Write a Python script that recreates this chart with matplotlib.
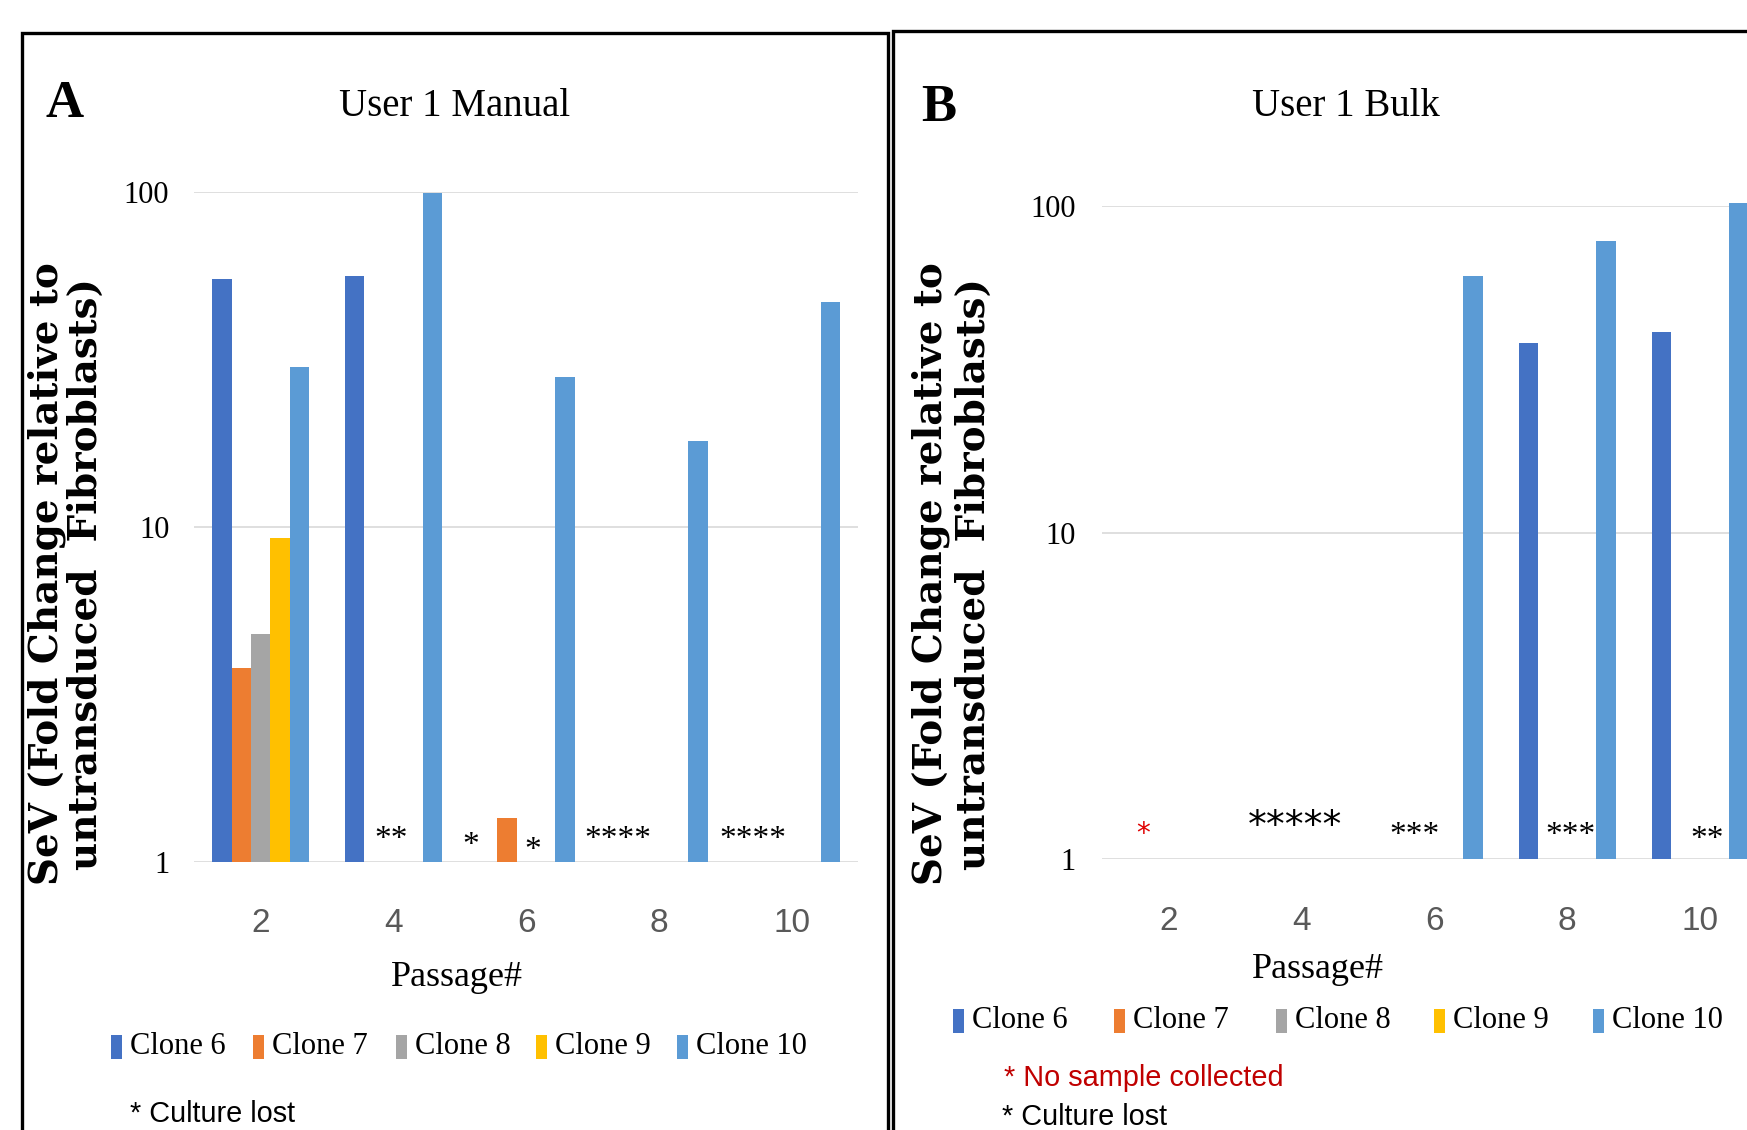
import numpy as np
import matplotlib
matplotlib.use('Agg')
import matplotlib.pyplot as plt
from matplotlib.patches import Rectangle
from matplotlib import font_manager

# data (log scale, nan = no bar)
nan = np.nan
passages = [2, 4, 6, 8, 10]
clones = ['Clone 6', 'Clone 7', 'Clone 8', 'Clone 9', 'Clone 10']
colors = ['#4472C4', '#ED7D31', '#A5A5A5', '#FFC000', '#5B9BD5']

# A - User 1 Manual
manual_c6 = [55, 56, nan, nan, nan]
manual_c7 = [3.8, nan, 1.36, nan, nan]
manual_c8 = [4.8, nan, nan, nan, nan]
manual_c9 = [9.3, nan, nan, nan, nan]
manual_c10 = [30, 99, 28, 18, 47]

# B - User 1 Bulk
bulk_c6 = [nan, nan, nan, 38, 41]
bulk_c7 = [nan, nan, nan, nan, nan]
bulk_c8 = [nan, nan, nan, nan, nan]
bulk_c9 = [nan, nan, nan, nan, nan]
bulk_c10 = [nan, nan, 61, 78, 102]

# asterisk notes: text, position (category index), value
notes_manual = [('**', 0.985, 1.23), ('*', 1.584, 1.18), ('*', 2.045, 1.14),
                ('****', 2.692, 1.23), ('****', 3.707, 1.23)]
notes_bulk = [('*****', 0.954, 1.33), ('***', 1.853, 1.24),
              ('***', 3.024, 1.24), ('**', 4.051, 1.20)]
red_note_bulk = ('*', -0.197, 1.24)

# fonts
names = {f.name for f in font_manager.fontManager.ttflist}
narrow = 'Liberation Sans Narrow' if 'Liberation Sans Narrow' in names else 'Liberation Sans'
nf = 1.0 if narrow == 'Liberation Sans Narrow' else 0.8
serif = 'Liberation Serif'

W, H = 1747, 1130
fig = plt.figure(figsize=(W / 100, H / 100), dpi=100)


def fx(px):
    return px / W


def fy(py):
    return 1 - py / H


def draw_panel(ax, series, notes, ylab_pad, xlab_pad):
    x = np.arange(len(passages))
    bw = 0.146
    for k, (vals, c) in enumerate(zip(series, colors)):
        # bars start at 1 on the log axis
        ax.bar(x + (k - 2) * bw, np.array(vals) - 1, width=bw, color=c,
               bottom=1, clip_on=False, zorder=3)
    ax.set_yscale('log')
    ax.set_ylim(1, 100)
    ax.set_xlim(-0.5, 4.5)
    ax.set_yticks([1, 10, 100])
    ax.set_yticklabels(['1', '10', '100'], fontsize=22, family=serif)
    ax.yaxis.set_minor_locator(matplotlib.ticker.NullLocator())
    ax.set_xticks(x)
    ax.set_xticklabels([str(p) for p in passages], fontsize=30 * nf,
                       family=narrow, color='#595959')
    ax.tick_params(axis='y', length=0, pad=ylab_pad)
    ax.tick_params(axis='x', length=0, pad=xlab_pad)
    ax.grid(axis='y', color='#D9D9D9', linewidth=1.2, zorder=0)
    for s in ax.spines.values():
        s.set_visible(False)
    for txt, xi, yv in notes:
        ax.annotate(txt, (xi, yv), xytext=(0, -11), textcoords='offset points',
                    ha='center', va='baseline', fontsize=24, family=serif)


# panel A
axA = fig.add_axes([0.1112, 0.2368, 0.3801, 0.5936])
draw_panel(axA, [manual_c6, manual_c7, manual_c8, manual_c9, manual_c10],
           notes_manual, 18, 33)

# panel B (runs off the right edge like the original)
axB = fig.add_axes([0.6310, 0.2398, 0.3801, 0.5779])
draw_panel(axB, [bulk_c6, bulk_c7, bulk_c8, bulk_c9, bulk_c10],
           notes_bulk[1:], 19, 34)
t, xi, yv = notes_bulk[0]
axB.annotate(t, (xi, yv), xytext=(0, -13), textcoords='offset points',
             ha='center', va='baseline', fontsize=27, family='DejaVu Sans')
t, xi, yv = red_note_bulk
axB.annotate(t, (xi, yv), xytext=(0, -10), textcoords='offset points',
             ha='center', va='baseline', fontsize=20, family='DejaVu Sans',
             color='#E00000')

# panel frames
fig.add_artist(Rectangle((fx(22), fy(1200)), fx(866), 1200 / H - 33 / H,
                         fill=False, lw=2.4, ec='black'))
fig.add_artist(Rectangle((fx(893), fy(1200)), fx(1000), 1200 / H - 31 / H,
                         fill=False, lw=2.4, ec='black'))

# panel letters and titles
fig.text(fx(65), fy(104), 'A', fontsize=38, family=serif, weight='bold',
         ha='center', va='center')
fig.text(fx(939), fy(108), 'B', fontsize=38, family=serif, weight='bold',
         ha='center', va='center')
fig.text(fx(455), fy(106), 'User 1 Manual', fontsize=28, family=serif,
         ha='center', va='center')
fig.text(fx(1346), fy(106), 'User 1 Bulk', fontsize=28, family=serif,
         ha='center', va='center')

# y labels
for x1, x2 in [(47, 86), (931, 974)]:
    fig.text(fx(x1), fy(574), 'SeV (Fold Change relative to', rotation=90,
             fontsize=28, family='DejaVu Serif', weight='bold',
             ha='center', va='center')
    fig.text(fx(x2), fy(574), 'untransduced  Fibroblasts)', rotation=90,
             fontsize=28, family='DejaVu Serif', weight='bold',
             ha='center', va='center')

# x labels
fig.text(fx(457), fy(977), 'Passage#', fontsize=26, family=serif,
         ha='center', va='center')
fig.text(fx(1318), fy(969), 'Passage#', fontsize=26, family=serif,
         ha='center', va='center')

# legends
legA_sq = [111, 253, 396, 536, 677]
legB_sq = [953, 1114, 1276, 1434, 1593]
for sqs, yc in [(legA_sq, 1047), (legB_sq, 1021)]:
    for x0, name, c in zip(sqs, clones, colors):
        fig.add_artist(Rectangle((fx(x0), fy(yc + 12)), fx(11), 24 / H,
                                 color=c, lw=0))
        fig.text(fx(x0 + 19), fy(yc), name, fontsize=22, family=serif,
                 ha='left', va='center')

# footnotes (cut by the bottom edge as in the original)
fig.text(fx(130), fy(1114), '* Culture lost', fontsize=26 * nf, family=narrow,
         ha='left', va='center')
fig.text(fx(1004), fy(1078), '* No sample collected', fontsize=26 * nf,
         family=narrow, color='#C00000', ha='left', va='center')
fig.text(fx(1002), fy(1117), '* Culture lost', fontsize=26 * nf, family=narrow,
         ha='left', va='center')

fig.savefig('out.png', dpi=100)
